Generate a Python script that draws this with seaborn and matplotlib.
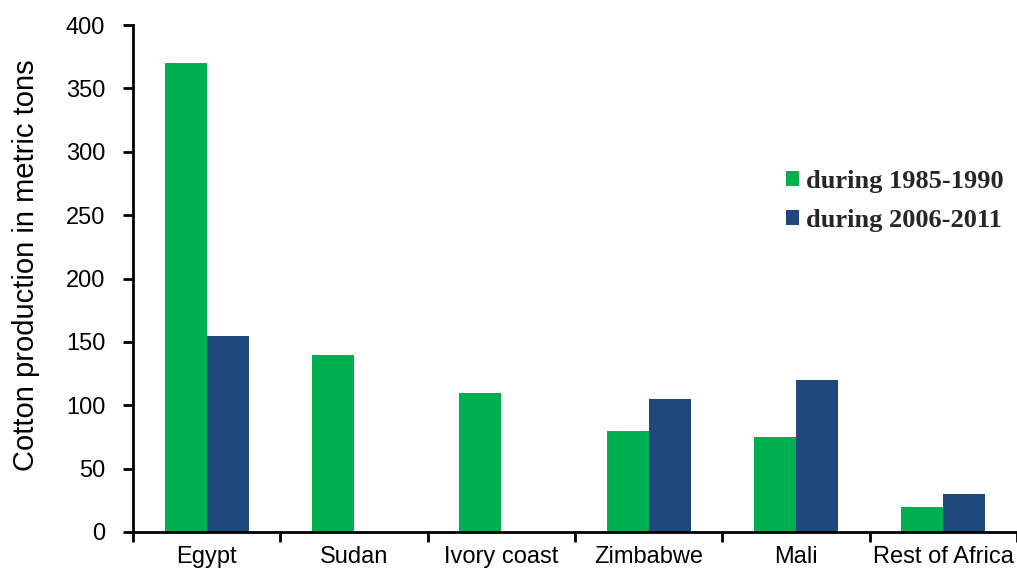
import matplotlib
matplotlib.use("Agg")
import matplotlib.pyplot as plt
import seaborn as sns
import pandas as pd

# Cotton production by country, two periods (metric tons)
countries = ["Egypt", "Sudan", "Ivory coast", "Zimbabwe", "Mali", "Rest of Africa"]
period_1985_1990 = [370, 140, 110, 80, 75, 20]
period_2006_2011 = [155, 0, 0, 105, 120, 30]
series_names = ["during 1985-1990", "during 2006-2011"]
y_ticks = [0, 50, 100, 150, 200, 250, 300, 350, 400]

df = pd.DataFrame({
    "country": countries * 2,
    "value": period_1985_1990 + period_2006_2011,
    "period": [series_names[0]] * len(countries) + [series_names[1]] * len(countries),
})

sns.set_theme(style="white")
plt.rcParams["font.family"] = ["Liberation Sans", "DejaVu Sans"]

fig = plt.figure(figsize=(10.17, 5.74), dpi=100)
ax = fig.add_axes([0.1308, 0.0732, 0.8692, 0.8832])

sns.barplot(
    data=df, x="country", y="value", hue="period", order=countries,
    hue_order=series_names, palette=["#00B050", "#1F497D"],
    width=0.57, saturation=1, ax=ax, errorbar=None,
    edgecolor="none", linewidth=0,
)

ax.set_xlim(-0.5, len(countries) - 0.5)
ax.set_ylim(0, 400)
ax.set_yticks(y_ticks)
ax.set_yticklabels([str(t) for t in y_ticks], fontsize=17)
ax.set_xticks(range(len(countries)))
ax.set_xticklabels(countries, fontsize=17)
ax.set_xticks([i - 0.5 for i in range(len(countries) + 1)], minor=True)
ax.tick_params(axis="x", which="major", length=0, pad=10, colors="black")
ax.tick_params(axis="x", which="minor", length=7, width=2, direction="out", bottom=True, color="black")
ax.tick_params(axis="y", which="major", length=7, width=2, direction="out", left=True, pad=13, colors="black")

ax.set_xlabel("")
ax.set_ylabel("Cotton production in metric tons", fontsize=21, color="black")
ax.yaxis.set_label_coords(-0.105, 0.526)

for side in ["top", "right"]:
    ax.spines[side].set_visible(False)
for side in ["left", "bottom"]:
    ax.spines[side].set_linewidth(2)
    ax.spines[side].set_color("black")

# Move the legend to a frameless box at figure level
handles, labels = ax.get_legend_handles_labels()
if ax.get_legend() is not None:
    ax.get_legend().remove()
fig.legend(
    handles, labels, loc="upper left", bbox_to_anchor=(0.773, 0.704),
    bbox_transform=fig.transFigure, borderaxespad=0, borderpad=0,
    frameon=False, prop={"family": "Liberation Serif", "weight": "bold", "size": 19},
    handlelength=0.5, handleheight=0.5, handletextpad=0.25, labelspacing=0.6,
)

fig.savefig("out.png", dpi=100)
